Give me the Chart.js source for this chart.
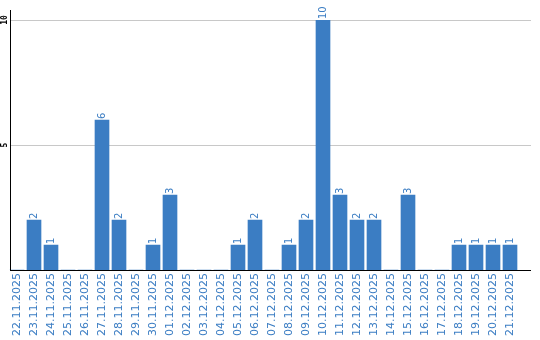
<!DOCTYPE html>
<html lang="en">
<head>
    <meta charset="UTF-8">
    <title>Daily count</title>
    <script src="https://cdn.jsdelivr.net/npm/chart.js"></script>
    <style>
        body { margin: 0; background: #fff; }
        #chart { display: block; }
    </style>
</head>
<body>
    <canvas id="chart" width="540" height="340"></canvas>

    <script>
        let labels = [
            "22.11.2025", "23.11.2025", "24.11.2025", "25.11.2025", "26.11.2025",
            "27.11.2025", "28.11.2025", "29.11.2025", "30.11.2025", "01.12.2025",
            "02.12.2025", "03.12.2025", "04.12.2025", "05.12.2025", "06.12.2025",
            "07.12.2025", "08.12.2025", "09.12.2025", "10.12.2025", "11.12.2025",
            "12.12.2025", "13.12.2025", "14.12.2025", "15.12.2025", "16.12.2025",
            "17.12.2025", "18.12.2025", "19.12.2025", "20.12.2025", "21.12.2025"
        ];
        let counts = [0, 2, 1, 0, 0, 6, 2, 0, 1, 3, 0, 0, 0, 1, 2, 0, 1, 2, 10, 3, 2, 2, 0, 3, 0, 0, 1, 1, 1, 1];
        let yTicks = [5, 10];

        const blue = '#3b7dc3';
        const lineRight = 531;

        // grid lines, axis lines and the rotated y labels
        const axesPlugin = {
            id: 'axesPlugin',
            beforeDatasetsDraw(chart) {
                const ctx = chart.ctx;
                const y = chart.scales.y;
                const left = 11;
                ctx.save();
                ctx.fillStyle = '#c8c8c8';
                yTicks.forEach(v => {
                    ctx.fillRect(left, Math.round(y.getPixelForValue(v)), lineRight - left, 1);
                });
                ctx.restore();
            },
            afterDatasetsDraw(chart) {
                const ctx = chart.ctx;
                const y = chart.scales.y;
                const bottom = Math.round(y.getPixelForValue(0));
                ctx.save();
                ctx.fillStyle = '#000';
                ctx.fillRect(10, 10, 1, bottom - 10 + 1);
                ctx.fillRect(10, bottom, lineRight - 10, 1);

                ctx.font = 'bold 8px "DejaVu Sans Mono"';
                ctx.textAlign = 'center';
                ctx.textBaseline = 'middle';
                yTicks.forEach(v => {
                    ctx.save();
                    ctx.translate(4.5, y.getPixelForValue(v));
                    ctx.rotate(-Math.PI / 2);
                    ctx.fillText(String(v), 0, 0);
                    ctx.restore();
                });

                // value labels above bars
                ctx.fillStyle = blue;
                ctx.font = '10px "DejaVu Sans"';
                ctx.textAlign = 'left';
                ctx.textBaseline = 'middle';
                const meta = chart.getDatasetMeta(0);
                meta.data.forEach((bar, i) => {
                    if (!counts[i]) return;
                    ctx.save();
                    ctx.translate(bar.x, bar.y - 1);
                    ctx.rotate(-Math.PI / 2);
                    ctx.fillText(String(counts[i]), 0, 0);
                    ctx.restore();
                });
                ctx.restore();
            }
        };

        const ctx = document.getElementById('chart').getContext('2d');
        const chart = new Chart(ctx, {
            type: 'bar',
            data: {
                labels: labels,
                datasets: [{
                    data: counts,
                    backgroundColor: blue,
                    borderWidth: 0,
                    barThickness: 14
                }]
            },
            options: {
                responsive: false,
                animation: false,
                layout: {
                    padding: { left: 8.5, right: 21.5, top: 20, bottom: 0 }
                },
                plugins: {
                    legend: { display: false },
                    tooltip: { enabled: false }
                },
                scales: {
                    x: {
                        grid: { display: false, drawTicks: false },
                        border: { display: false },
                        ticks: {
                            autoSkip: false,
                            minRotation: 90,
                            maxRotation: 90,
                            padding: 3,
                            color: blue,
                            font: { family: 'DejaVu Sans', size: 11 }
                        },
                        afterFit: s => { s.height = 70; }
                    },
                    y: {
                        display: false,
                        min: 0,
                        max: 10
                    }
                }
            },
            plugins: [axesPlugin]
        });
    </script>
</body>
</html>
